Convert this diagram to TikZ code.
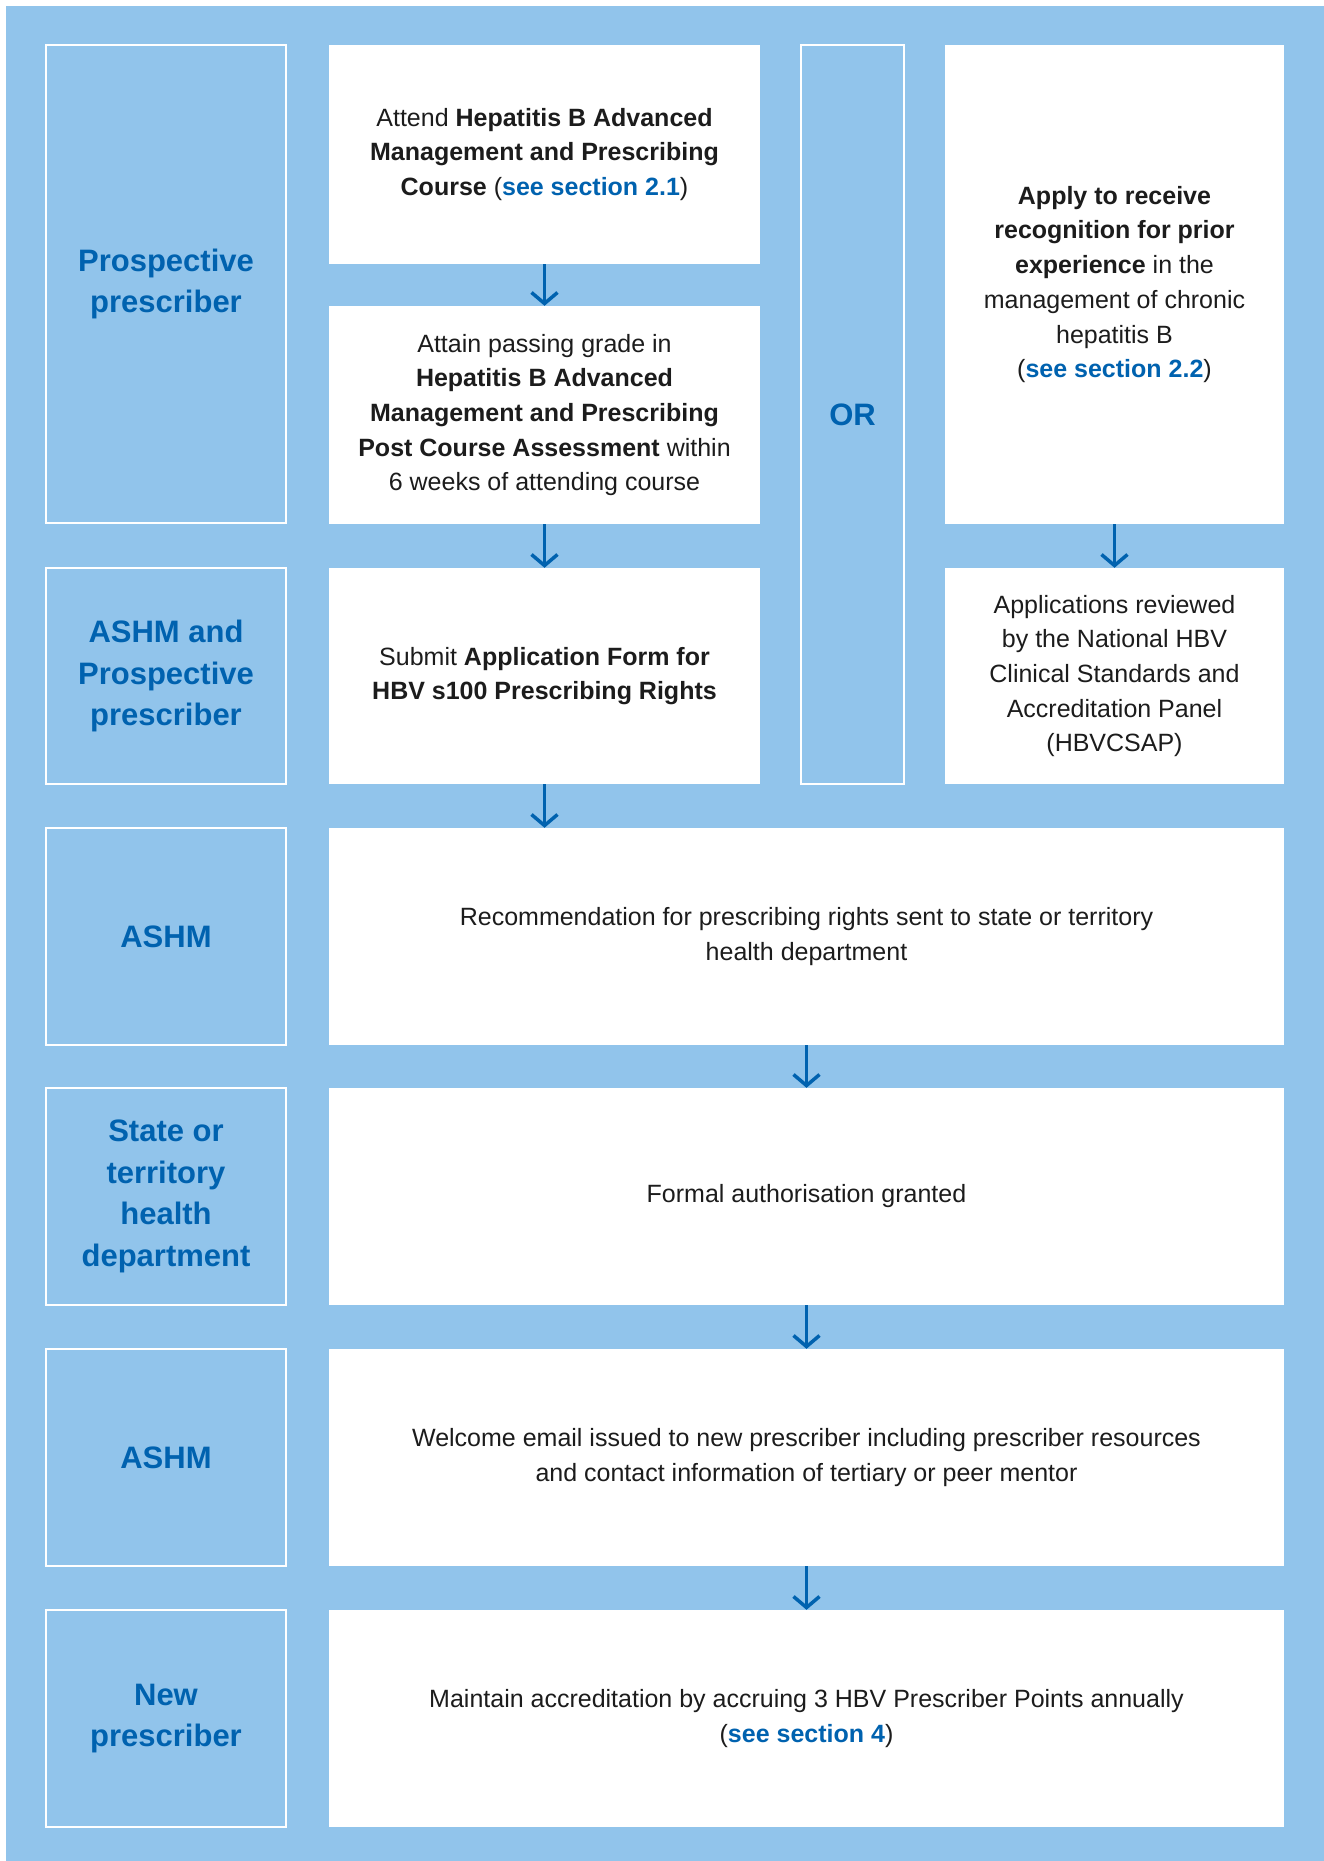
\documentclass[tikz,border=0pt]{standalone}
\usepackage{fontspec}
\setmainfont{Liberation Sans}
\usetikzlibrary{positioning}
\usetikzlibrary{arrows.meta}
\definecolor{skyblue}{RGB}{145,196,235}
\definecolor{navy}{RGB}{0,98,175}
\definecolor{ink}{RGB}{28,28,28}

\tikzset{
  role/.style={draw=white, line width=1.2pt, inner sep=0pt, align=center,
    text=navy, font=\bfseries\fontsize{31}{41.7}\selectfont},
  stepbox/.style={fill=white, inner sep=0pt, align=center,
    text=ink, font=\fontsize{25}{34.7}\selectfont},
  flow/.style={navy, line width=3.5pt,
    -{Straight Barb[length=11pt,width=26pt,line width=3.5pt]}},
}
\newcommand{\seesec}[1]{(\textcolor{navy}{\textbf{#1}})}

\begin{document}
\begin{tikzpicture}[x=1pt,y=-1pt]
\useasboundingbox (0,0) rectangle (1324,1861);
% Background
\fill[skyblue] (6,6) rectangle (1324,1861);

% Who does it
\node[role, minimum width=240pt, minimum height=478pt] (who1) at (166,284) {Prospective\\prescriber};
\node[role, minimum width=240pt, minimum height=216pt] (who2) at (166,676) {ASHM and\\Prospective\\prescriber};
\node[role, minimum width=240pt, minimum height=217pt] (who3) at (166,936.5) {ASHM};
\node[role, minimum width=240pt, minimum height=217pt] (who4) at (166,1196.5) {State or\\territory\\health\\department};
\node[role, minimum width=240pt, minimum height=217pt] (who5) at (166,1457.5) {ASHM};
\node[role, minimum width=240pt, minimum height=217pt] (who6) at (166,1718.5) {New\\prescriber};
\node[role, minimum width=103pt, minimum height=739pt] (or) at (852.5,414.5) {OR};

% Course route
\node[stepbox, minimum width=431pt, minimum height=219pt] (attend) at (544.5,154.5)
  {Attend \textbf{Hepatitis B Advanced}\\\textbf{Management and Prescribing}\\\textbf{Course} \seesec{see section 2.1}};
\node[stepbox, minimum width=431pt, minimum height=218pt] (attain) at (544.5,415)
  {Attain passing grade in\\\textbf{Hepatitis B Advanced}\\\textbf{Management and Prescribing}\\\textbf{Post Course Assessment} within\\6 weeks of attending course};
\node[stepbox, minimum width=431pt, minimum height=216pt] (submit) at (544.5,676)
  {Submit \textbf{Application Form for}\\\textbf{HBV s100 Prescribing Rights}};

% Prior experience route
\node[stepbox, minimum width=339pt, minimum height=479pt] (apply) at (1114.5,284.5)
  {\textbf{Apply to receive}\\\textbf{recognition for prior}\\\textbf{experience} in the\\management of chronic\\hepatitis B\\\seesec{see section 2.2}};
\node[stepbox, minimum width=339pt, minimum height=216pt] (review) at (1114.5,676)
  {Applications reviewed\\by the National HBV\\Clinical Standards and\\Accreditation Panel\\(HBVCSAP)};

% Common steps
\node[stepbox, minimum width=955pt, minimum height=217pt] (recommend) at (806.5,936.5)
  {Recommendation for prescribing rights sent to state or territory\\health department};
\node[stepbox, minimum width=955pt, minimum height=217pt] (grant) at (806.5,1196.5)
  {Formal authorisation granted};
\node[stepbox, minimum width=955pt, minimum height=217pt] (welcome) at (806.5,1457.5)
  {Welcome email issued to new prescriber including prescriber resources\\and contact information of tertiary or peer mentor};
\node[stepbox, minimum width=955pt, minimum height=217pt] (maintain) at (806.5,1718.5)
  {Maintain accreditation by accruing 3 HBV Prescriber Points annually\\\seesec{see section 4}};

% Arrows
\draw[flow] (attend) -- (attain);
\draw[flow] (attain) -- (submit);
\draw[flow] (submit.south) -- (submit.south |- recommend.north);
\draw[flow] (apply) -- (review);
\draw[flow] (recommend) -- (grant);
\draw[flow] (grant) -- (welcome);
\draw[flow] (welcome) -- (maintain);
\end{tikzpicture}
\end{document}
